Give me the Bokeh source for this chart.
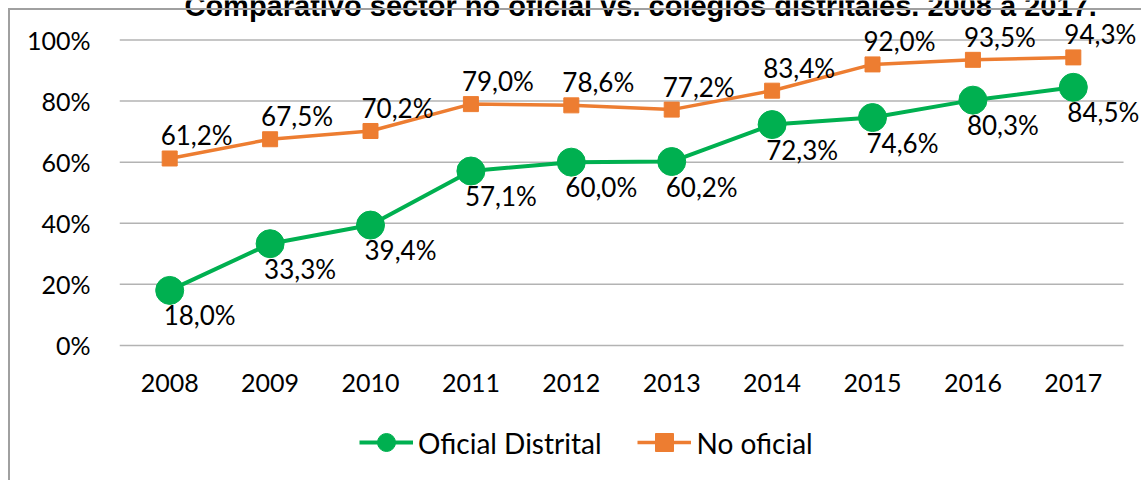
from bokeh.plotting import figure
from bokeh.layouts import column
from bokeh.models import (ColumnDataSource, Range1d, FixedTicker,
                          PrintfTickFormatter, LabelSet, Legend, LegendItem, Label)
from bokeh.core.properties import value
from bokeh.embed import file_html
from bokeh.resources import INLINE

# ---- data ----
years = ["2008", "2009", "2010", "2011", "2012", "2013", "2014", "2015", "2016", "2017"]
oficial_distrital = [18.0, 33.3, 39.4, 57.1, 60.0, 60.2, 72.3, 74.6, 80.3, 84.5]
no_oficial = [61.2, 67.5, 70.2, 79.0, 78.6, 77.2, 83.4, 92.0, 93.5, 94.3]
y_ticks = [0, 20, 40, 60, 80, 100]
series_names = ["Oficial Distrital", "No oficial"]
title_text = "Comparativo sector no oficial vs. colegios distritales. 2008 a 2017."

GREEN = "#00B050"
ORANGE = "#ED7D31"
FONT = "Lato"
BORDER = "#A0A0A0"
GRID = "#B3B3B3"


def fmt(v):
    return f"{v:.1f}".replace(".", ",") + "%"


xi = list(range(len(years)))
src = ColumnDataSource(dict(
    xi=xi,
    od=oficial_distrital,
    no=no_oficial,
    od_lbl=[fmt(v) for v in oficial_distrital],
    no_lbl=[fmt(v) for v in no_oficial],
))

# ---------------- main chart ----------------
p = figure(x_range=Range1d(-0.5, 9.679), y_range=Range1d(-2, 112.93),
           frame_width=1022, frame_height=351,
           min_border_left=119, min_border_right=0,
           min_border_top=0, min_border_bottom=53,
           output_backend="svg", toolbar_location=None)
p.outline_line_color = None
p.background_fill_color = "white"
p.border_fill_color = "white"

p.xgrid.grid_line_color = None
p.ygrid.grid_line_color = None
p.segment(x0=xi[0] - 0.5, x1=xi[-1] + 0.5, y0=y_ticks, y1=y_ticks,
          line_color=GRID, line_width=1.5, level="underlay")

p.xaxis.ticker = FixedTicker(ticks=xi)
p.xaxis.major_label_overrides = {i: y for i, y in zip(xi, years)}
p.yaxis.ticker = FixedTicker(ticks=y_ticks)
p.yaxis.formatter = PrintfTickFormatter(format="%d%%")
for ax in (p.xaxis, p.yaxis):
    ax.axis_line_color = None
    ax.major_tick_line_color = None
    ax.minor_tick_line_color = None
    ax.major_label_text_font = FONT
    ax.major_label_text_font_size = "25px"
    ax.major_label_text_color = "#000000"
p.yaxis.major_label_standoff = 23
p.xaxis.major_label_standoff = 16

p.line("xi", "no", source=src, line_color=ORANGE, line_width=3.5)
p.scatter("xi", "no", source=src, marker="square", size=15,
          fill_color=ORANGE, line_color=ORANGE)
p.line("xi", "od", source=src, line_color=GREEN, line_width=4)
p.scatter("xi", "od", source=src, marker="circle", size=28,
          fill_color=GREEN, line_color=GREEN)

p.add_layout(LabelSet(x="xi", y="no", text="no_lbl", source=src,
                      x_offset=27, y_offset=23, text_align="center",
                      text_baseline="middle", text_font=value(FONT),
                      text_font_size=value("26px"), text_color="#000000"))
p.add_layout(LabelSet(x="xi", y="od", text="od_lbl", source=src,
                      x_offset=30, y_offset=-25, text_align="center",
                      text_baseline="middle", text_font=value(FONT),
                      text_font_size=value("26px"), text_color="#000000"))

# title (cropped at the top, as in the reference)
p.add_layout(Label(x=4.69, y=111.29, text=title_text, text_align="center",
                   text_baseline="alphabetic", text_font="Liberation Sans",
                   text_font_style="bold", text_font_size="29px",
                   text_color="#000000"))

# ---------------- legend strip ----------------
q = figure(width=1141, height=76, x_range=Range1d(0, 1), y_range=Range1d(1000, 1001),
           x_axis_type=None, y_axis_type=None, min_border=0,
           output_backend="svg", toolbar_location=None)
q.outline_line_color = None
q.grid.grid_line_color = None
q.background_fill_color = "white"
q.border_fill_color = "white"
# same series drawn outside the visible range, only to feed the legend
lg_line = q.line("xi", "od", source=src, line_color=GREEN, line_width=4)
lg_mark = q.scatter("xi", "od", source=src, marker="circle", size=28,
                    fill_color=GREEN, line_color=GREEN)
lo_line = q.line("xi", "no", source=src, line_color=ORANGE, line_width=3.5)
lo_mark = q.scatter("xi", "no", source=src, marker="square", size=15,
                    fill_color=ORANGE, line_color=ORANGE)

legend = Legend(items=[LegendItem(label=series_names[0], renderers=[lg_line, lg_mark]),
                       LegendItem(label=series_names[1], renderers=[lo_line, lo_mark])],
                location="left", orientation="horizontal",
                padding=0, margin=240, spacing=36, glyph_width=54, glyph_height=45,
                label_standoff=5, border_line_color=None, background_fill_alpha=0,
                label_text_font=FONT, label_text_font_size="28px",
                label_text_color="#000000")
q.add_layout(legend)

layout = column(p, q, spacing=0)
# chart-area border (left and top edges), as in the reference
layout.stylesheets = [
    ":host { position: relative; }"
    ":host::after { content: ''; position: absolute; left: 8px; top: 8px; "
    "width: 1140px; height: 480px; border-left: 2px solid " + BORDER + "; "
    "border-top: 2px solid " + BORDER + "; pointer-events: none; z-index: 10; }"
]

open("out.html", "w").write(file_html(layout, INLINE))
